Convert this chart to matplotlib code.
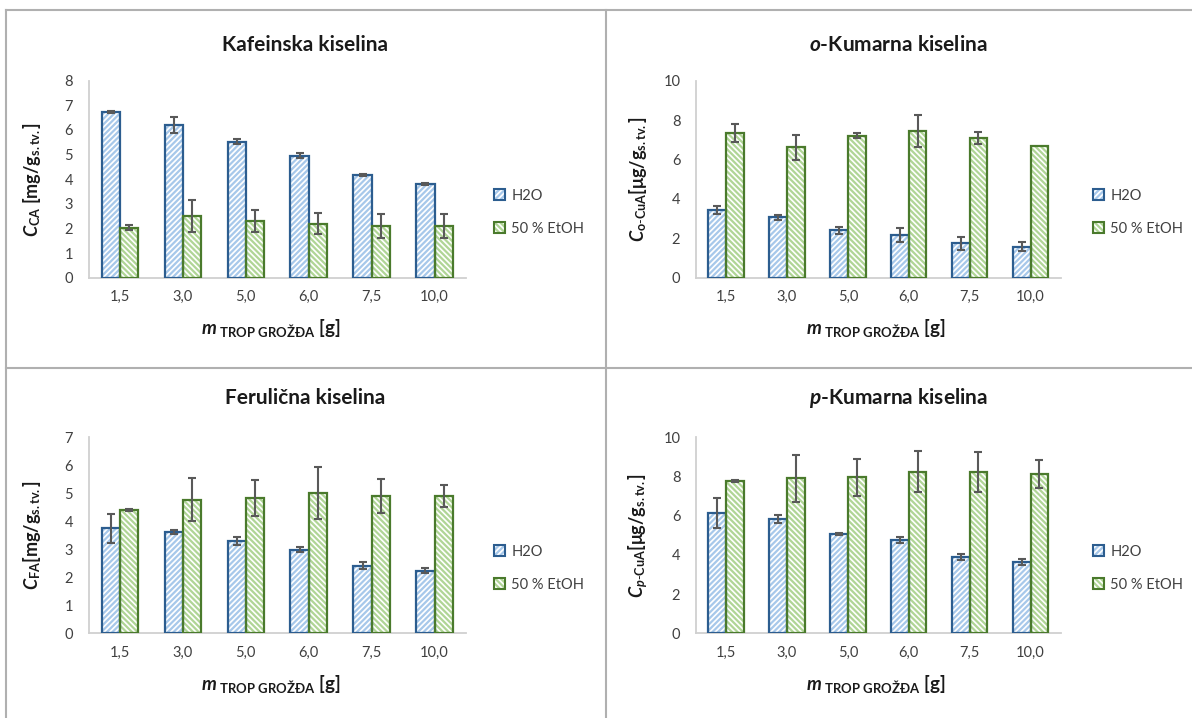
import matplotlib
matplotlib.use("Agg")
import matplotlib.pyplot as plt
from matplotlib.patches import Patch
from matplotlib.lines import Line2D
import numpy as np

plt.rcParams['font.family'] = ['Lato', 'DejaVu Sans']
plt.rcParams['mathtext.fontset'] = 'custom'
plt.rcParams['mathtext.rm'] = 'Lato'
plt.rcParams['mathtext.it'] = 'Lato:italic'
plt.rcParams['mathtext.bf'] = 'Lato:bold'
plt.rcParams['mathtext.bfit'] = 'Lato:bold:italic'
plt.rcParams['hatch.linewidth'] = 1.6

categories = ['1,5', '3,0', '5,0', '6,0', '7,5', '10,0']
series_names = ['H2O', '50 % EtOH']

# Kafeinska kiselina
ca_h2o = [6.73, 6.20, 5.53, 4.95, 4.17, 3.80]
ca_h2o_err = [0.05, 0.34, 0.12, 0.10, 0.05, 0.04]
ca_etoh = [2.03, 2.52, 2.29, 2.20, 2.10, 2.10]
ca_etoh_err = [0.09, 0.65, 0.44, 0.44, 0.48, 0.48]

# o-Kumarna kiselina
oca_h2o = [3.44, 3.06, 2.40, 2.18, 1.74, 1.57]
oca_h2o_err = [0.19, 0.12, 0.16, 0.36, 0.31, 0.23]
oca_etoh = [7.36, 6.62, 7.21, 7.46, 7.09, 6.67]
oca_etoh_err = [0.45, 0.64, 0.14, 0.81, 0.32, 0.0]

# Ferulična kiselina
fa_h2o = [3.75, 3.61, 3.31, 2.99, 2.42, 2.24]
fa_h2o_err = [0.52, 0.07, 0.14, 0.10, 0.13, 0.08]
fa_etoh = [4.40, 4.77, 4.84, 5.02, 4.90, 4.90]
fa_etoh_err = [0.03, 0.76, 0.64, 0.92, 0.62, 0.40]

# p-Kumarna kiselina
pca_h2o = [6.14, 5.85, 5.07, 4.76, 3.89, 3.64]
pca_h2o_err = [0.78, 0.20, 0.03, 0.16, 0.16, 0.15]
pca_etoh = [7.77, 7.91, 7.96, 8.24, 8.24, 8.11]
pca_etoh_err = [0.03, 1.20, 0.94, 1.05, 1.03, 0.71]

W, H = 1192, 718
fig = plt.figure(figsize=(W / 100, H / 100), dpi=100)

blue_edge = '#2C5D8F'
blue_hatch = '#A7C8EA'
green_edge = '#4A7A2C'
green_hatch = '#B0D596'
err_col = '#595959'
spine_col = '#D0D0D0'
border_col = '#B0B0B0'

panels = [
    dict(title=r'Kafeinska kiselina', ylabel=r'$\mathbfit{C}_{\mathbf{CA}}$ [mg/g$_{\mathbf{s.tv.}}$]',
         h=ca_h2o, he=ca_h2o_err, e=ca_etoh, ee=ca_etoh_err, ymax=8, step=1,
         rect=(88.5, 80.7, 466, 277.7), tx=305.5, ty=45, lx=488, ylx=32, xlx=271, xly=328),
    dict(title=r'$\mathbfit{o}$-Kumarna kiselina', ylabel=r'$\mathbfit{C}_{\mathbf{o\text{-}CuA}}$[μg/g$_{\mathbf{s.tv.}}$]',
         h=oca_h2o, he=oca_h2o_err, e=oca_etoh, ee=oca_etoh_err, ymax=10, step=2,
         rect=(695.6, 80.7, 1061, 277.7), tx=898, ty=45, lx=1087, ylx=638, xlx=876, xly=328),
    dict(title=r'Ferulična kiselina', ylabel=r'$\mathbfit{C}_{\mathbf{FA}}$[mg/g$_{\mathbf{s.tv.}}$]',
         h=fa_h2o, he=fa_h2o_err, e=fa_etoh, ee=fa_etoh_err, ymax=7, step=1,
         rect=(88.5, 437.3, 466, 633.3), tx=305.5, ty=398, lx=488, ylx=32, xlx=271, xly=684),
    dict(title=r'$\mathbfit{p}$-Kumarna kiselina', ylabel=r'$\mathbfit{C}_{\mathbfit{p}\mathbf{\text{-}CuA}}$[μg/g$_{\mathbf{s.tv.}}$]',
         h=pca_h2o, he=pca_h2o_err, e=pca_etoh, ee=pca_etoh_err, ymax=10, step=2,
         rect=(695.6, 437.3, 1061, 633.3), tx=898, ty=398, lx=1087, ylx=638, xlx=876, xly=684),
]

x = np.arange(len(categories))
bw = 0.29

for p in panels:
    x0, y0, x1, y1 = p['rect']
    ax = fig.add_axes([x0 / W, 1 - y1 / H, (x1 - x0) / W, (y1 - y0) / H])
    xs_h = x - bw / 2
    xs_e = x + bw / 2
    ax.bar(xs_h, p['h'], bw, color='white', edgecolor=blue_hatch, linewidth=0, hatch='//////', zorder=2)
    ax.bar(xs_h, p['h'], bw, fill=False, edgecolor=blue_edge, linewidth=1.6, zorder=3)
    ax.bar(xs_e, p['e'], bw, color='white', edgecolor=green_hatch, linewidth=0, hatch='\\\\\\\\\\\\', zorder=2)
    ax.bar(xs_e, p['e'], bw, fill=False, edgecolor=green_edge, linewidth=1.6, zorder=3)
    ax.errorbar(xs_h, p['h'], yerr=p['he'], fmt='none', ecolor=err_col, elinewidth=1.5,
                capsize=3, capthick=1.5, zorder=4)
    ee = np.array(p['ee'])
    mask = ee > 0
    ax.errorbar(xs_e[mask], np.array(p['e'])[mask], yerr=ee[mask], fmt='none', ecolor=err_col,
                elinewidth=1.5, capsize=3, capthick=1.5, zorder=4)
    ax.set_xlim(-0.5, len(categories) - 0.5)
    ax.set_ylim(0, p['ymax'])
    ax.set_yticks(np.arange(0, p['ymax'] + 0.01, p['step']))
    ax.set_xticks(x)
    ax.set_xticklabels(categories)
    ax.tick_params(length=0, labelsize=10.5, colors='#404040', pad=9)
    ax.tick_params(axis='y', pad=11)
    for s in ['top', 'right']:
        ax.spines[s].set_visible(False)
    for s in ['left', 'bottom']:
        ax.spines[s].set_color(spine_col)
        ax.spines[s].set_linewidth(1.3)
    ax.set_ylabel(p['ylabel'], fontsize=13, fontweight='bold', color='#1a1a1a')
    ax.yaxis.set_label_coords((p['ylx'] - x0) / (x1 - x0), 0.5)
    ax.yaxis.label.set_va('center')
    ax.set_xlabel(r'$\mathbfit{m}$$_{\mathregular{\ TROP\ GROŽĐA}}$ [g]', fontsize=13.5,
                  fontweight='bold', color='#1a1a1a')
    ax.xaxis.set_label_coords((p['xlx'] - x0) / (x1 - x0), (y1 - p['xly']) / (y1 - y0))
    ax.xaxis.label.set_va('center')
    fig.text(p['tx'] / W, 1 - p['ty'] / H, p['title'], fontsize=15, fontweight='bold',
             ha='center', va='center', color='#1a1a1a')
    handles = [
        (Patch(facecolor='white', edgecolor=blue_hatch, linewidth=0, hatch='//////'),
         Patch(fill=False, edgecolor=blue_edge, linewidth=1.5)),
        (Patch(facecolor='white', edgecolor=green_hatch, linewidth=0, hatch='\\\\\\\\\\\\'),
         Patch(fill=False, edgecolor=green_edge, linewidth=1.5)),
    ]
    fig.legend(handles, series_names, loc='center left',
               bbox_to_anchor=(p['lx'] / W, 1 - ((y0 + y1) / 2 + 33) / H),
               frameon=False, fontsize=10.5, handlelength=0.75, handleheight=0.75,
               handletextpad=0.45, labelspacing=1.3, borderaxespad=0, labelcolor='#404040')

# panel borders
for (xa, ya, xb, yb) in [(6, 10, 1192, 10), (6, 10, 6, 718), (605.5, 10, 605.5, 718), (6, 367.5, 1192, 367.5)]:
    fig.add_artist(Line2D([xa / W, xb / W], [1 - ya / H, 1 - yb / H], color=border_col, linewidth=1.5,
                          transform=fig.transFigure))

fig.savefig('out.png', dpi=100)
